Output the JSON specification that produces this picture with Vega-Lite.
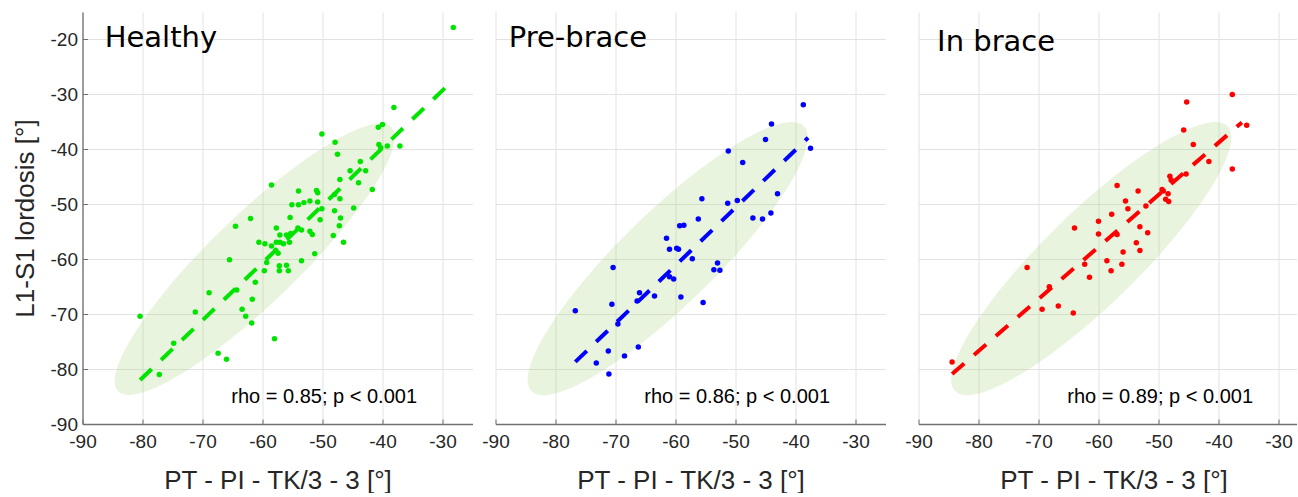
{
  "$schema": "https://vega.github.io/schema/vega-lite/v6.json",
  "padding": {"left": 11.5, "top": 12, "right": 0, "bottom": 0},
  "config": {
    "view": {"stroke": null},
    "axis": {
      "gridColor": "#e2e2e2", "gridWidth": 1,
      "domainColor": "#707070", "domainWidth": 1.3,
      "tickColor": "#707070", "tickSize": -5,
      "labelFlush": false,
      "labelFont": "Liberation Sans", "labelFontSize": 19, "labelColor": "#262626",
      "titleFont": "Liberation Sans", "titleFontSize": 26, "titleFontWeight": "normal", "titleColor": "#262626"
    },
    "axisX": {"labelPadding": 13, "titlePadding": 16},
    "axisY": {"labelPadding": 10, "titlePadding": 12}
  },
  "datasets": {
    "pts_h": [
      {"x": -28.2, "y": -17.8}, {"x": -38.1, "y": -32.4}, {"x": -40.7, "y": -36.0}, {"x": -40.0, "y": -35.5},
      {"x": -50.1, "y": -37.2}, {"x": -47.9, "y": -38.7}, {"x": -47.5, "y": -40.9}, {"x": -40.6, "y": -39.1},
      {"x": -40.3, "y": -39.7}, {"x": -39.2, "y": -39.4}, {"x": -37.1, "y": -39.4}, {"x": -43.7, "y": -42.2},
      {"x": -42.8, "y": -43.9}, {"x": -45.4, "y": -43.9}, {"x": -44.0, "y": -46.1}, {"x": -47.1, "y": -45.5},
      {"x": -41.7, "y": -47.3}, {"x": -58.5, "y": -46.5}, {"x": -54.0, "y": -47.6}, {"x": -51.0, "y": -47.5},
      {"x": -50.8, "y": -47.9}, {"x": -48.0, "y": -48.2}, {"x": -47.1, "y": -49.0}, {"x": -55.1, "y": -50.1},
      {"x": -54.0, "y": -50.1}, {"x": -53.1, "y": -49.7}, {"x": -52.1, "y": -49.4}, {"x": -50.8, "y": -49.6},
      {"x": -50.1, "y": -50.8}, {"x": -48.0, "y": -51.2}, {"x": -44.8, "y": -50.7}, {"x": -55.4, "y": -52.4},
      {"x": -62.0, "y": -52.6}, {"x": -50.4, "y": -52.8}, {"x": -47.0, "y": -52.5}, {"x": -64.5, "y": -54.0},
      {"x": -57.7, "y": -54.3}, {"x": -54.1, "y": -54.3}, {"x": -53.5, "y": -54.7}, {"x": -52.1, "y": -54.9},
      {"x": -51.7, "y": -55.5}, {"x": -47.2, "y": -53.9}, {"x": -48.2, "y": -55.7}, {"x": -46.5, "y": -56.9},
      {"x": -57.1, "y": -55.6}, {"x": -56.0, "y": -55.6}, {"x": -55.3, "y": -55.3}, {"x": -60.6, "y": -56.9},
      {"x": -59.6, "y": -57.2}, {"x": -58.5, "y": -57.6}, {"x": -57.7, "y": -56.9}, {"x": -57.1, "y": -56.9},
      {"x": -56.5, "y": -57.2}, {"x": -55.5, "y": -56.9}, {"x": -57.8, "y": -58.4}, {"x": -57.4, "y": -58.9},
      {"x": -65.5, "y": -60.1}, {"x": -59.3, "y": -60.6}, {"x": -59.7, "y": -62.1}, {"x": -57.2, "y": -61.2},
      {"x": -56.0, "y": -61.1}, {"x": -57.2, "y": -62.1}, {"x": -55.7, "y": -62.1}, {"x": -53.5, "y": -60.3},
      {"x": -51.3, "y": -59.0}, {"x": -61.2, "y": -64.2}, {"x": -68.9, "y": -66.1}, {"x": -64.3, "y": -65.6},
      {"x": -61.7, "y": -67.3}, {"x": -71.2, "y": -69.6}, {"x": -63.4, "y": -69.1}, {"x": -62.8, "y": -70.4},
      {"x": -61.8, "y": -71.6}, {"x": -80.4, "y": -70.4}, {"x": -74.8, "y": -75.3}, {"x": -58.0, "y": -74.5},
      {"x": -67.4, "y": -77.1}, {"x": -66.0, "y": -78.2}, {"x": -77.2, "y": -81.0}
    ],
    "pts_p": [
      {"x": -38.7, "y": -31.9}, {"x": -44.0, "y": -35.4}, {"x": -45.0, "y": -38.2}, {"x": -37.5, "y": -39.8},
      {"x": -51.2, "y": -40.3}, {"x": -48.8, "y": -42.4}, {"x": -43.0, "y": -48.1}, {"x": -55.6, "y": -49.0},
      {"x": -51.3, "y": -49.8}, {"x": -49.7, "y": -49.3}, {"x": -44.1, "y": -51.6}, {"x": -56.2, "y": -52.7},
      {"x": -47.1, "y": -52.5}, {"x": -45.5, "y": -52.7}, {"x": -59.3, "y": -53.9}, {"x": -58.6, "y": -53.8},
      {"x": -61.5, "y": -56.2}, {"x": -61.0, "y": -58.2}, {"x": -59.8, "y": -58.0}, {"x": -59.5, "y": -58.2},
      {"x": -57.2, "y": -59.9}, {"x": -53.0, "y": -60.7}, {"x": -53.6, "y": -61.9}, {"x": -52.6, "y": -62.0},
      {"x": -61.0, "y": -63.2}, {"x": -60.3, "y": -63.6}, {"x": -70.4, "y": -61.5}, {"x": -66.0, "y": -66.1},
      {"x": -66.4, "y": -67.6}, {"x": -63.5, "y": -66.7}, {"x": -59.1, "y": -66.9}, {"x": -55.4, "y": -67.9},
      {"x": -70.6, "y": -68.2}, {"x": -76.7, "y": -69.4}, {"x": -69.6, "y": -71.8}, {"x": -71.2, "y": -76.7},
      {"x": -68.5, "y": -77.6}, {"x": -66.2, "y": -76.0}, {"x": -73.2, "y": -78.9}, {"x": -71.1, "y": -80.9}
    ],
    "pts_b": [
      {"x": -37.7, "y": -30.0}, {"x": -45.3, "y": -31.4}, {"x": -35.3, "y": -35.6}, {"x": -45.8, "y": -36.5},
      {"x": -44.2, "y": -39.1}, {"x": -41.6, "y": -42.2}, {"x": -37.7, "y": -43.6}, {"x": -45.4, "y": -44.5},
      {"x": -48.1, "y": -44.9}, {"x": -47.9, "y": -45.6}, {"x": -56.9, "y": -46.6}, {"x": -53.4, "y": -47.6},
      {"x": -49.4, "y": -47.3}, {"x": -49.2, "y": -47.6}, {"x": -48.4, "y": -48.1}, {"x": -48.8, "y": -49.1},
      {"x": -48.3, "y": -49.5}, {"x": -55.5, "y": -49.4}, {"x": -55.1, "y": -50.8}, {"x": -52.1, "y": -50.3},
      {"x": -57.8, "y": -51.8}, {"x": -60.0, "y": -53.1}, {"x": -64.0, "y": -54.3}, {"x": -53.1, "y": -54.1},
      {"x": -51.8, "y": -55.2}, {"x": -60.0, "y": -55.4}, {"x": -56.9, "y": -55.5}, {"x": -53.7, "y": -57.0},
      {"x": -53.1, "y": -58.4}, {"x": -55.9, "y": -58.7}, {"x": -58.6, "y": -60.3}, {"x": -56.1, "y": -60.9},
      {"x": -57.9, "y": -62.1}, {"x": -62.3, "y": -60.9}, {"x": -61.5, "y": -63.3}, {"x": -71.9, "y": -61.5},
      {"x": -68.2, "y": -65.0}, {"x": -69.4, "y": -69.1}, {"x": -66.7, "y": -68.5}, {"x": -64.2, "y": -69.8},
      {"x": -84.4, "y": -78.7}
    ],
    "fit_h": [{"x": -80.4, "y": -82.0}, {"x": -28.3, "y": -27.5}],
    "fit_p": [{"x": -76.7, "y": -78.7}, {"x": -37.9, "y": -37.9}],
    "fit_b": [{"x": -84.4, "y": -80.9}, {"x": -36.1, "y": -35.1}],
    "ell_h": [{"x": -61.3, "y": -60.0}],
    "ell_p": [{"x": -61.3, "y": -59.9}],
    "ell_b": [{"x": -61.2, "y": -59.9}],
    "name_h": [{"x": -86.3, "y": -21.45, "label": "Healthy"}],
    "name_p": [{"x": -87.8, "y": -21.4, "label": "Pre-brace"}],
    "name_b": [{"x": -86.9, "y": -22.1, "label": "In brace"}],
    "rho_h": [{"x": -65.2, "y": -86.2, "label": "rho = 0.85; p < 0.001"}],
    "rho_p": [{"x": -65.2, "y": -86.2, "label": "rho = 0.86; p < 0.001"}],
    "rho_b": [{"x": -65.2, "y": -86.2, "label": "rho = 0.89; p < 0.001"}]
  },
  "spacing": 19,
  "hconcat": [
    {
      "spacing": 9,
      "hconcat": [
        {
          "width": 390, "height": 412,
          "encoding": {
            "x": {"field": "x", "type": "quantitative",
                  "scale": {"domain": [-90, -25], "nice": false, "zero": false},
                  "axis": {"values": [-90, -80, -70, -60, -50, -40, -30], "labelExpr": "'-' + abs(datum.value)", "title": "PT - PI - TK/3 - 3 [°]"}},
            "y": {"field": "y", "type": "quantitative",
                  "scale": {"domain": [-90, -15], "nice": false, "zero": false},
                  "axis": {"values": [-90, -80, -70, -60, -50, -40, -30, -20], "labelExpr": "'-' + abs(datum.value)", "title": "L1-S1 lordosis [°]"}}
          },
          "layer": [
            {"data": {"name": "ell_h"}, "mark": {"type": "point", "shape": "M-1,0A1,0.2316,0,1,0,1,0A1,0.2316,0,1,0,-1,0Z", "size": 144400, "angle": -44, "filled": true, "fill": "#a6d47a", "fillOpacity": 0.25, "opacity": 1, "strokeWidth": 0}},
            {"data": {"name": "pts_h"}, "mark": {"type": "circle", "size": 30, "color": "#00e400", "opacity": 1}},
            {"data": {"name": "fit_h"}, "mark": {"type": "line", "color": "#00e400", "strokeWidth": 4, "strokeDash": [16, 13], "strokeCap": "butt"}},
            {"data": {"name": "name_h"}, "mark": {"type": "text", "font": "DejaVu Sans", "fontSize": 29, "align": "left", "baseline": "alphabetic", "color": "#000000"}, "encoding": {"text": {"field": "label"}}},
            {"data": {"name": "rho_h"}, "mark": {"type": "text", "font": "Liberation Sans", "fontSize": 20, "align": "left", "baseline": "alphabetic", "color": "#000000"}, "encoding": {"text": {"field": "label"}}}
          ]
        },
        {
          "width": 390, "height": 412,
          "encoding": {
            "x": {"field": "x", "type": "quantitative",
                  "scale": {"domain": [-90, -25], "nice": false, "zero": false},
                  "axis": {"values": [-90, -80, -70, -60, -50, -40, -30], "labelExpr": "'-' + abs(datum.value)", "title": "PT - PI - TK/3 - 3 [°]"}},
            "y": {"field": "y", "type": "quantitative",
                  "scale": {"domain": [-90, -15], "nice": false, "zero": false},
                  "axis": {"values": [-90, -80, -70, -60, -50, -40, -30, -20], "title": null, "labels": false, "ticks": false, "domain": false}}
          },
          "layer": [
            {"data": {"name": "ell_p"}, "mark": {"type": "point", "shape": "M-1,0A1,0.245,0,1,0,1,0A1,0.245,0,1,0,-1,0Z", "size": 144400, "angle": -44.2, "filled": true, "fill": "#a6d47a", "fillOpacity": 0.25, "opacity": 1, "strokeWidth": 0}},
            {"data": {"name": "pts_p"}, "mark": {"type": "circle", "size": 30, "color": "#0000ff", "opacity": 1}},
            {"data": {"name": "fit_p"}, "mark": {"type": "line", "color": "#0000ff", "strokeWidth": 4, "strokeDash": [16, 13], "strokeCap": "butt"}},
            {"data": {"name": "name_p"}, "mark": {"type": "text", "font": "DejaVu Sans", "fontSize": 29, "align": "left", "baseline": "alphabetic", "color": "#000000"}, "encoding": {"text": {"field": "label"}}},
            {"data": {"name": "rho_p"}, "mark": {"type": "text", "font": "Liberation Sans", "fontSize": 20, "align": "left", "baseline": "alphabetic", "color": "#000000"}, "encoding": {"text": {"field": "label"}}}
          ]
        }
      ]
    },
    {
      "width": 378, "height": 412,
      "encoding": {
        "x": {"field": "x", "type": "quantitative",
              "scale": {"domain": [-90, -27], "nice": false, "zero": false},
              "axis": {"values": [-90, -80, -70, -60, -50, -40, -30], "labelExpr": "'-' + abs(datum.value)", "title": "PT - PI - TK/3 - 3 [°]", "titleX": 195}},
        "y": {"field": "y", "type": "quantitative",
              "scale": {"domain": [-90, -15], "nice": false, "zero": false},
              "axis": {"values": [-90, -80, -70, -60, -50, -40, -30, -20], "title": null, "labels": false, "ticks": false, "domain": false}}
      },
      "layer": [
        {"data": {"name": "ell_b"}, "mark": {"type": "point", "shape": "M-1,0A1,0.245,0,1,0,1,0A1,0.245,0,1,0,-1,0Z", "size": 144400, "angle": -44.2, "filled": true, "fill": "#a6d47a", "fillOpacity": 0.25, "opacity": 1, "strokeWidth": 0}},
        {"data": {"name": "pts_b"}, "mark": {"type": "circle", "size": 30, "color": "#ff0000", "opacity": 1}},
        {"data": {"name": "fit_b"}, "mark": {"type": "line", "color": "#ff0000", "strokeWidth": 4, "strokeDash": [16, 13], "strokeCap": "butt"}},
        {"data": {"name": "name_b"}, "mark": {"type": "text", "font": "DejaVu Sans", "fontSize": 29, "align": "left", "baseline": "alphabetic", "color": "#000000"}, "encoding": {"text": {"field": "label"}}},
        {"data": {"name": "rho_b"}, "mark": {"type": "text", "font": "Liberation Sans", "fontSize": 20, "align": "left", "baseline": "alphabetic", "color": "#000000"}, "encoding": {"text": {"field": "label"}}}
      ]
    }
  ]
}
